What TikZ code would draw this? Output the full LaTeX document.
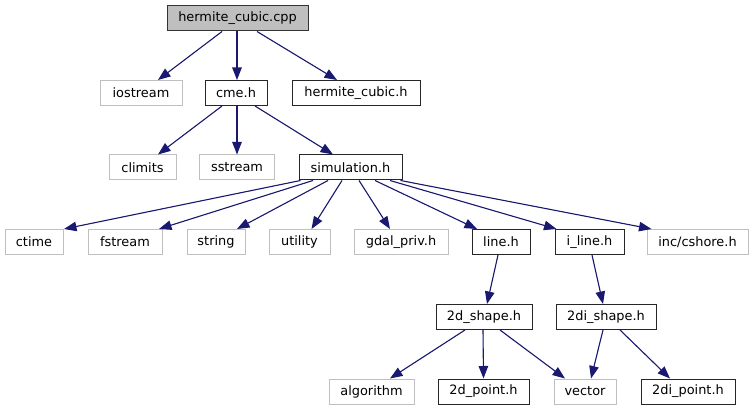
\documentclass[tikz,border=0pt]{standalone}
\usepackage{fontspec}
\setmainfont{DejaVu Sans}
\usetikzlibrary{arrows.meta}
\definecolor{edgeblue}{HTML}{191970}
\definecolor{extgray}{HTML}{BFBFBF}
\tikzset{
  box/.style={draw=black!85, line width=1pt, inner sep=0pt, minimum height=25pt, font=\fontsize{12.9}{14}\selectfont, text=black},
  extbox/.style={box, draw=extgray, line width=1pt},
  rootbox/.style={box, fill=extgray, draw=black!80},
  dep/.style={draw=edgeblue, line width=1.1pt, -{Triangle[length=12.5pt,width=9.5pt]}, fill=edgeblue}
}
\begin{document}
\begin{tikzpicture}[x=1pt,y=-1pt]
\useasboundingbox (0,0) rectangle (754,411);
% row 0
\node[rootbox, minimum width=141pt] (cpp) at (237.5,18.5) {hermite\_cubic.cpp};
% row 1
\node[extbox, minimum width=82pt] (iostream) at (141,93) {iostream};
\node[box, minimum width=62pt] (cme) at (236,93) {cme.h};
\node[box, minimum width=128pt] (hch) at (356,93) {hermite\_cubic.h};
% row 2
\node[extbox, minimum width=67pt] (climits) at (142.5,167.5) {climits};
\node[extbox, minimum width=75pt] (sstream) at (237,167.5) {sstream};
\node[box, minimum width=103pt] (sim) at (350.5,167.5) {simulation.h};
% row 3
\node[extbox, minimum width=58pt] (ctime) at (34,242) {ctime};
\node[extbox, minimum width=74pt] (fstream) at (125,242) {fstream};
\node[extbox, minimum width=58pt] (string) at (216,242) {string};
\node[extbox, minimum width=61pt] (utility) at (299.5,242) {utility};
\node[extbox, minimum width=94pt] (gdal) at (401,242) {gdal\_priv.h};
\node[box, minimum width=58pt] (line) at (501,242) {line.h};
\node[box, minimum width=69pt] (iline) at (589.5,242) {i\_line.h};
\node[extbox, minimum width=101pt] (cshore) at (697.5,242) {inc/cshore.h};
% row 4
\node[box, minimum width=96pt] (dshape) at (484,317) {2d\_shape.h};
\node[box, minimum width=100pt] (dishape) at (606,317) {2di\_shape.h};
% row 5
\node[extbox, minimum width=85pt] (algorithm) at (371.5,391.5) {algorithm};
\node[box, minimum width=91pt] (dpoint) at (483.5,391.5) {2d\_point.h};
\node[extbox, minimum width=62pt] (vector) at (585,391.5) {vector};
\node[box, minimum width=94pt] (dipoint) at (688,391.5) {2di\_point.h};
% edges
\draw[dep] ([xshift=-15.5pt]cpp.south) -- ([xshift=17pt]iostream.north);
\draw[dep] ([xshift=-0.5pt]cpp.south) -- ([xshift=1pt]cme.north);
\draw[dep] ([xshift=19.5pt]cpp.south) -- ([xshift=-19pt]hch.north);
\draw[dep] ([xshift=-14pt]cme.south) -- ([xshift=15.5pt]climits.north);
\draw[dep] ([xshift=1pt]cme.south) -- (sstream.north);
\draw[dep] ([xshift=19pt]cme.south) -- ([xshift=-17.5pt]sim.north);
\draw[dep] ([xshift=2pt]sim.south west) -- ([xshift=30pt]ctime.north);
\draw[dep] ([xshift=-37.5pt]sim.south) -- ([xshift=34pt]fstream.north);
\draw[dep] ([xshift=-22.5pt]sim.south) -- ([xshift=21pt]string.north);
\draw[dep] ([xshift=-8.5pt]sim.south) -- ([xshift=12pt]utility.north);
\draw[dep] ([xshift=8.5pt]sim.south) -- ([xshift=-11pt]gdal.north);
\draw[dep] ([xshift=24.5pt]sim.south) -- ([xshift=-24pt]line.north);
\draw[dep] ([xshift=39.5pt]sim.south) -- ([xshift=-33pt]iline.north);
\draw[dep] ([xshift=-2pt]sim.south east) -- ([xshift=-46pt]cshore.north);
\draw[dep] ([xshift=-3pt]line.south) -- ([xshift=3pt]dshape.north);
\draw[dep] ([xshift=2.5pt]iline.south) -- ([xshift=-3pt]dishape.north);
\draw[dep] ([xshift=-19pt]dshape.south) -- ([xshift=18.5pt]algorithm.north);
\draw[dep] ([xshift=-1pt]dshape.south) -- (dpoint.north);
\draw[dep] ([xshift=16pt]dshape.south) -- ([xshift=-20pt]vector.north);
\draw[dep] ([xshift=-3pt]dishape.south) -- ([xshift=6pt]vector.north);
\draw[dep] ([xshift=14pt]dishape.south) -- ([xshift=-18pt]dipoint.north);
\end{tikzpicture}
\end{document}
